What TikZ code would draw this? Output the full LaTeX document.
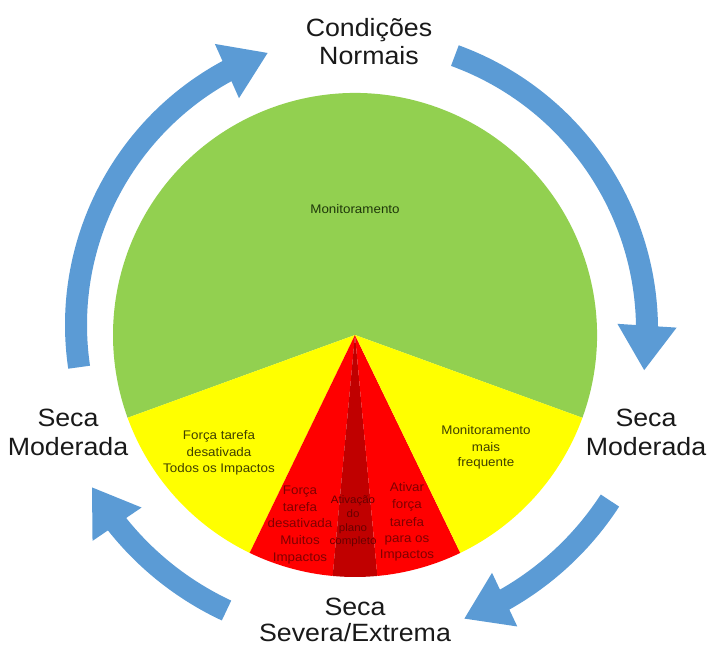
\documentclass[tikz,border=0pt]{standalone}
\usepackage{fontspec}
\setmainfont{Liberation Sans}[FakeStretch=1.07]
\usetikzlibrary{arrows.meta,bending}

% sector fills
\definecolor{pieGreen}{HTML}{92D050}
\definecolor{pieYellow}{HTML}{FFFF00}
\definecolor{pieRed}{HTML}{FF0000}
\definecolor{pieDark}{HTML}{C00000}
% cycle arrows
\definecolor{cycleBlue}{HTML}{5B9BD5}
% text inside the sectors
\definecolor{txtGreen}{HTML}{1F380A}
\definecolor{txtYellow}{HTML}{404000}
\definecolor{txtRed}{HTML}{800000}
\definecolor{txtDark}{HTML}{680000}

\begin{document}
\begin{tikzpicture}[x=1pt,y=1pt,
  stage/.style={inner sep=0pt, anchor=base, text=black!90,
                font=\fontsize{25}{28}\selectfont},
  slice/.style={inner sep=0pt, anchor=base, font=\fontsize{12.5}{15}\selectfont},
  sliver/.style={inner sep=0pt, anchor=base, font=\fontsize{10.8}{13}\selectfont},
  cyclearrow/.style={draw=cycleBlue, line width=22pt,
                     -{Triangle[width=56pt,length=45pt]}}]
\useasboundingbox (0,0) rectangle (707,646);

% centre of the pie and centres of the cycle arrows
\coordinate (c)  at (355,311);
\coordinate (ca) at (365,321);
\coordinate (cb) at (355,316);

% ---- pie sectors ----
\fill[pieGreen]  (c) -- ++(-20:242)   arc[start angle=-20,   end angle=200,   radius=242] -- cycle;
\fill[pieYellow] (c) -- ++(200:242)   arc[start angle=200,   end angle=244.2, radius=242] -- cycle;
\fill[pieRed]    (c) -- ++(244.2:242) arc[start angle=244.2, end angle=264.7, radius=242] -- cycle;
\fill[pieDark]   (c) -- ++(264.7:242) arc[start angle=264.7, end angle=275.3, radius=242] -- cycle;
\fill[pieRed]    (c) -- ++(275.3:242) arc[start angle=275.3, end angle=295.8, radius=242] -- cycle;
\fill[pieYellow] (c) -- ++(295.8:242) arc[start angle=295.8, end angle=340,   radius=242] -- cycle;

% ---- cycle arrows ----
\draw[cyclearrow] ([shift={(188.4:289)}]ca) arc[start angle=188.4, end angle=109.6, radius=289];
\draw[cyclearrow] ([shift={(70:292)}]cb)    arc[start angle=70,    end angle=-8,    radius=292];
\draw[cyclearrow] ([shift={(-33:304)}]c)    arc[start angle=-33,   end angle=-69,   radius=304];
\draw[cyclearrow] ([shift={(245:304)}]c)    arc[start angle=245,   end angle=210,   radius=304];

% ---- stage labels ----
\node[stage] (norm1) at (369,609) {Condições};
\node[stage] (norm2) at (369,581) {Normais};
\node[stage] (modR1) at (646,219) {Seca};
\node[stage] (modR2) at (646,191) {Moderada};
\node[stage] (modL1) at (68,219)  {Seca};
\node[stage] (modL2) at (68,191)  {Moderada};
\node[stage] (sev1)  at (355,31)  {Seca};
\node[stage] (sev2)  at (355,4.5) {Severa/Extrema};

% ---- sector texts ----
\node[slice, text=txtGreen] (mon) at (355,432) {Monitoramento};

\node[slice, text=txtYellow] (ly1) at (219,206.5) {Força tarefa};
\node[slice, text=txtYellow] (ly2) at (219,189.5) {desativada};
\node[slice, text=txtYellow] (ly3) at (219,173.5) {Todos os Impactos};

\node[slice, text=txtYellow] (ry1) at (486,211.5) {Monitoramento};
\node[slice, text=txtYellow] (ry2) at (486,194.5) {mais};
\node[slice, text=txtYellow] (ry3) at (486,179.5) {frequente};

\node[slice, text=txtRed] (lr1) at (300,151.5) {Força};
\node[slice, text=txtRed] (lr2) at (300,135)   {tarefa};
\node[slice, text=txtRed] (lr3) at (300,118.5) {desativada};
\node[slice, text=txtRed] (lr4) at (300,101.5) {Muitos};
\node[slice, text=txtRed] (lr5) at (300,85)    {Impactos};

\node[sliver, text=txtDark] (dr1) at (353,143) {Ativação};
\node[sliver, text=txtDark] (dr2) at (353,129) {do};
\node[sliver, text=txtDark] (dr3) at (353,115) {plano};
\node[sliver, text=txtDark] (dr4) at (353,102) {completo};

\node[slice, text=txtRed] (rr1) at (407,155)   {Ativar};
\node[slice, text=txtRed] (rr2) at (407,137.5) {força};
\node[slice, text=txtRed] (rr3) at (407,120)   {tarefa};
\node[slice, text=txtRed] (rr4) at (407,103.5) {para os};
\node[slice, text=txtRed] (rr5) at (407,87.5)  {Impactos};
\end{tikzpicture}
\end{document}
